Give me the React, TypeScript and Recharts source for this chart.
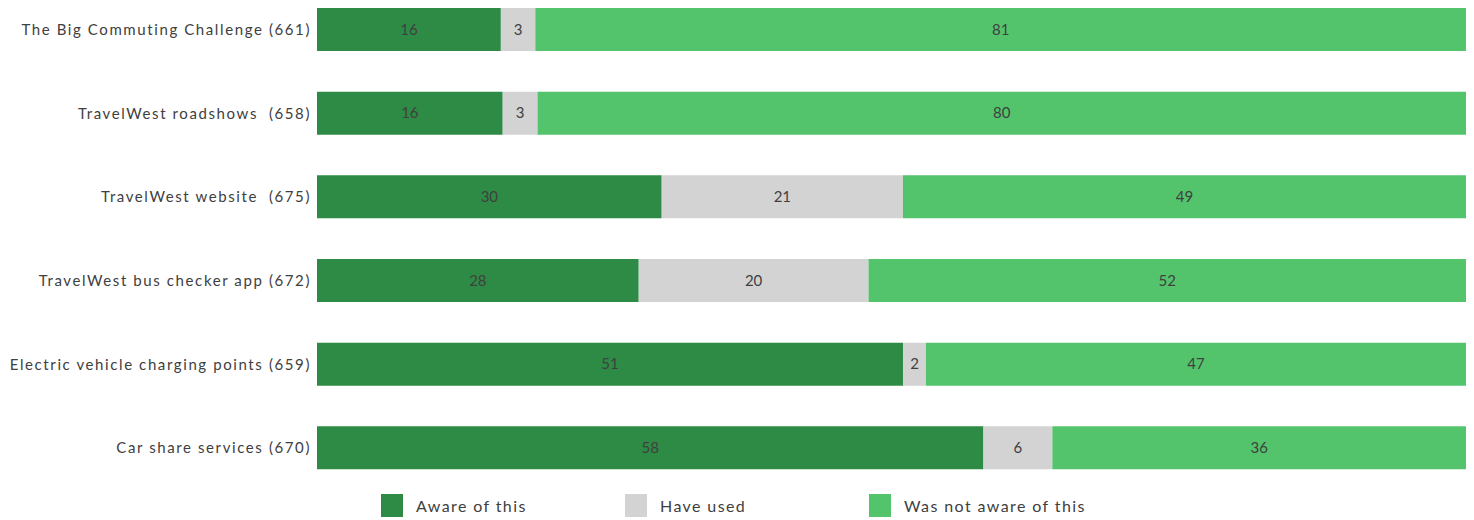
import { Bar, BarChart, LabelList, Legend, XAxis, YAxis } from 'recharts';

const categories = [
    'The Big Commuting Challenge (661)',
    'TravelWest roadshows\u00a0 (658)',
    'TravelWest website\u00a0 (675)',
    'TravelWest bus checker app (672)',
    'Electric vehicle charging points (659)',
    'Car share services (670)',
];
const awareValues = [16, 16, 30, 28, 51, 58];
const usedValues = [3, 3, 21, 20, 2, 6];
const notAwareValues = [81, 80, 49, 52, 47, 36];

const seriesNames = ['Aware of this', 'Have used', 'Was not aware of this'];
const COLORS = ['#2e8b45', '#d3d3d3', '#53c46c'];
const FONT = 'Lato, "Open Sans", sans-serif';
const TEXT = '#404040';

const data = categories.map((name, i) => ({
    name,
    aware: awareValues[i],
    used: usedValues[i],
    notAware: notAwareValues[i],
}));

function LegendBox() {
    const lefts = [381, 625, 869];
    return (
        <div style={{ position: 'relative', width: 1474, height: 26 }}>
            {seriesNames.map((n, i) => (
                <div key={n} style={{ position: 'absolute', left: lefts[i], top: 0, display: 'flex', alignItems: 'center' }}>
                    <span style={{ width: 22, height: 23, background: COLORS[i], display: 'inline-block' }} />
                    <span style={{ marginLeft: 13, fontSize: 16, color: TEXT, fontFamily: FONT, letterSpacing: '1.4px' }}>{n}</span>
                </div>
            ))}
        </div>
    );
}

export default function App() {
    const label = { fill: TEXT, fontSize: 15, fontFamily: FONT };
    return (
        <div style={{ position: 'absolute', left: 0, top: -20, width: 1474, height: 540, background: '#fff' }}>
            <BarChart
                width={1474}
                height={540}
                data={data}
                layout="vertical"
                stackOffset="expand"
                barSize={43}
                margin={{ top: 8, right: 8, left: 0, bottom: 4 }}
            >
                <XAxis type="number" domain={[0, 1]} hide />
                <YAxis
                    type="category"
                    dataKey="name"
                    width={317}
                    tickLine={false}
                    tickSize={0}
                    tickMargin={6}
                    axisLine={false}
                    interval={0}
                    tick={{ fill: TEXT, fontSize: 15, fontFamily: FONT, letterSpacing: '1.6px' }}
                />
                <Legend
                    content={() => <LegendBox />}
                    wrapperStyle={{ top: 514, left: 0, width: 1474 }}
                />
                <Bar dataKey="aware" stackId="a" fill={COLORS[0]} isAnimationActive={false}>
                    <LabelList dataKey="aware" position="center" style={label} />
                </Bar>
                <Bar dataKey="used" stackId="a" fill={COLORS[1]} isAnimationActive={false}>
                    <LabelList dataKey="used" position="center" style={label} />
                </Bar>
                <Bar dataKey="notAware" stackId="a" fill={COLORS[2]} isAnimationActive={false}>
                    <LabelList dataKey="notAware" position="center" style={label} />
                </Bar>
            </BarChart>
        </div>
    );
}
